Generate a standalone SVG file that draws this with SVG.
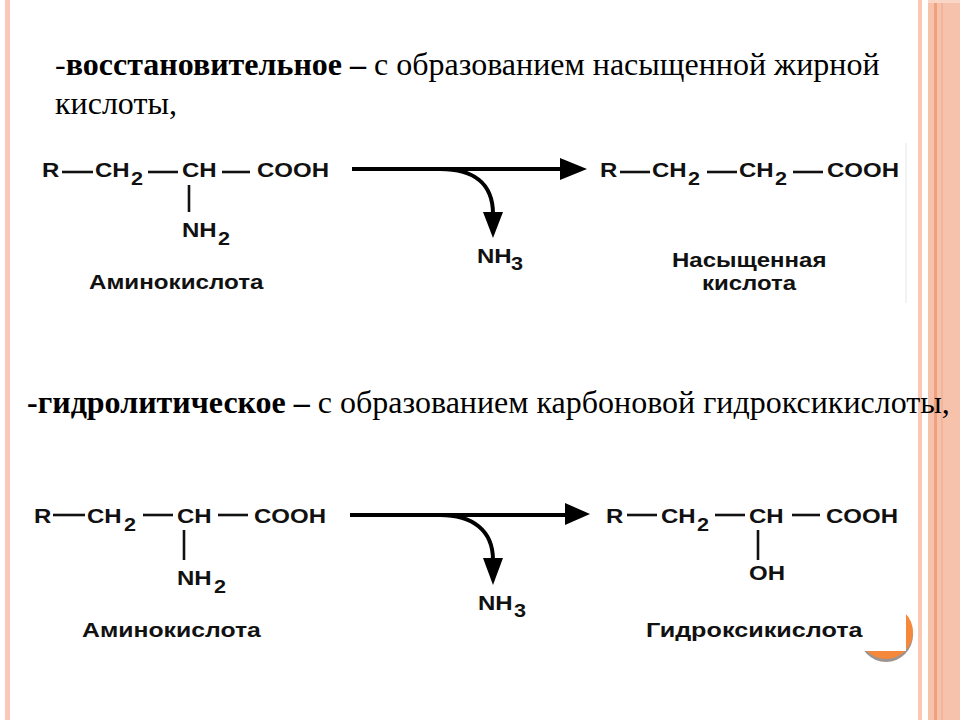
<svg xmlns="http://www.w3.org/2000/svg" width="960" height="720" viewBox="0 0 960 720">
<style>
.h{font-family:"Liberation Serif","Times New Roman",serif;font-size:32px;fill:#000}
.b{font-weight:bold}
.c{font-family:"Liberation Sans",Arial,sans-serif;font-weight:bold;font-size:20px;fill:#111}
.s{font-family:"Liberation Sans",Arial,sans-serif;font-weight:bold;font-size:18px;fill:#111}
.bond{stroke:#111;stroke-width:2.6;fill:none}
.arr{stroke:#000;stroke-width:4;fill:none}
.head{fill:#000}
</style>
<rect width="960" height="720" fill="#fff"/>
<g id="frame">
<rect x="5" y="0" width="5" height="720" fill="#fcc6b8"/>
<rect x="918" y="0" width="4" height="720" fill="#fcc8b4"/>
<rect x="928" y="0" width="32" height="720" fill="#f6c2ac"/>
<rect x="934" y="0" width="3" height="720" fill="#f0a07c"/>
<rect x="941" y="0" width="2" height="720" fill="#f2b49a"/>
<rect x="928" y="0" width="32" height="3" fill="#fad6c6"/>
</g>
<g id="badge">
<circle cx="886" cy="635" r="27" fill="#9c9490"/>
<circle cx="886" cy="632" r="27" fill="#f5883a"/>
<rect x="20" y="478" width="886" height="173" fill="#fff"/>
</g>
<g id="heading1">
<text class="h" x="55" y="75">-<tspan class="b">восстановительное –</tspan> с образованием насыщенной жирной</text>
<text class="h" x="55" y="114">кислоты,</text>
</g>
<g id="heading2">
<text class="h" x="27" y="413"><tspan class="b">-гидролитическое –</tspan> с образованием карбоновой гидроксикислоты,</text>
</g>
<line x1="906" y1="143" x2="906" y2="303" stroke="#e6e6e6" stroke-width="1"/>
<g id="aminoacid1">
<text class="c" transform="translate(42 177) scale(1.2 1)">R</text>
<text class="c" transform="translate(95 177) scale(1.2 1)">CH</text>
<text class="s" transform="translate(131 185) scale(1.2 1)">2</text>
<text class="c" transform="translate(182 177) scale(1.2 1)">CH</text>
<text class="c" transform="translate(257 177) scale(1.2 1)">COOH</text>
<text class="c" transform="translate(182 237) scale(1.2 1)">NH</text>
<text class="s" transform="translate(218 245) scale(1.2 1)">2</text>
<text class="c" transform="translate(89 289) scale(1.21 1)">Аминокислота</text>
<line class="bond" x1="62" y1="172" x2="93" y2="172"/>
<line class="bond" x1="148" y1="172" x2="178" y2="172"/>
<line class="bond" x1="222" y1="172" x2="250" y2="172"/>
<line class="bond" x1="189" y1="185" x2="189" y2="212"/>
</g>
<g id="product1">
<text class="c" transform="translate(600 177) scale(1.2 1)">R</text>
<text class="c" transform="translate(652 177) scale(1.2 1)">CH</text>
<text class="s" transform="translate(688 185) scale(1.2 1)">2</text>
<text class="c" transform="translate(739 177) scale(1.2 1)">CH</text>
<text class="s" transform="translate(775 185) scale(1.2 1)">2</text>
<text class="c" transform="translate(827 177) scale(1.2 1)">COOH</text>
<text class="c" transform="translate(672 267) scale(1.2 1)">Насыщенная</text>
<text class="c" transform="translate(702 290) scale(1.2 1)">кислота</text>
<line class="bond" x1="620" y1="172" x2="650" y2="172"/>
<line class="bond" x1="707" y1="172" x2="737" y2="172"/>
<line class="bond" x1="793" y1="172" x2="823" y2="172"/>
</g>
<g id="nh3_1">
<text class="c" transform="translate(477 263) scale(1.2 1)">NH</text>
<text class="s" transform="translate(511 270) scale(1.2 1)">3</text>
</g>
<g id="aminoacid2">
<text class="c" transform="translate(34 523) scale(1.2 1)">R</text>
<text class="c" transform="translate(87 523) scale(1.2 1)">CH</text>
<text class="s" transform="translate(124 531) scale(1.2 1)">2</text>
<text class="c" transform="translate(177 523) scale(1.2 1)">CH</text>
<text class="c" transform="translate(254 523) scale(1.2 1)">COOH</text>
<text class="c" transform="translate(177 585) scale(1.2 1)">NH</text>
<text class="s" transform="translate(214 593) scale(1.2 1)">2</text>
<text class="c" transform="translate(82 637) scale(1.24 1)">Аминокислота</text>
<line class="bond" x1="53" y1="515" x2="85" y2="515"/>
<line class="bond" x1="143" y1="515" x2="173" y2="515"/>
<line class="bond" x1="218" y1="515" x2="248" y2="515"/>
<line class="bond" x1="184" y1="530" x2="184" y2="560"/>
</g>
<g id="product2">
<text class="c" transform="translate(606 523) scale(1.2 1)">R</text>
<text class="c" transform="translate(661 523) scale(1.2 1)">CH</text>
<text class="s" transform="translate(697 531) scale(1.2 1)">2</text>
<text class="c" transform="translate(749 523) scale(1.2 1)">CH</text>
<text class="c" transform="translate(826 523) scale(1.2 1)">COOH</text>
<text class="c" transform="translate(749 580) scale(1.2 1)">OH</text>
<text class="c" transform="translate(646 637) scale(1.26 1)">Гидроксикислота</text>
<line class="bond" x1="627" y1="515" x2="657" y2="515"/>
<line class="bond" x1="715" y1="515" x2="745" y2="515"/>
<line class="bond" x1="792" y1="515" x2="820" y2="515"/>
<line class="bond" x1="758" y1="530" x2="758" y2="560"/>
</g>
<g id="nh3_2">
<text class="c" transform="translate(478 610) scale(1.2 1)">NH</text>
<text class="s" transform="translate(514 617) scale(1.2 1)">3</text>
</g>
<g id="connectors">
<line class="arr" x1="352" y1="169" x2="562" y2="169"/>
<polygon class="head" points="560,158 587,169 560,180"/>
<path class="arr" d="M440 169 C472 169 493 182 493 214"/>
<polygon class="head" points="483,212 503,212 493,238"/>
<line class="arr" x1="350" y1="515" x2="567" y2="515"/>
<polygon class="head" points="565,503 590,514 565,525"/>
<path class="arr" d="M440 515 C472 515 493 530 493 560"/>
<polygon class="head" points="483,558 503,558 493,585"/>
</g>
</svg>
